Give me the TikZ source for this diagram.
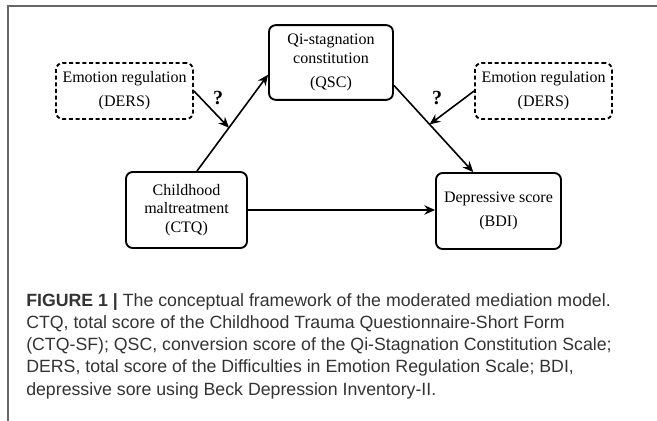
\documentclass[tikz,border=0pt]{standalone}
\usepackage{fontspec}
\setmainfont{Liberation Serif}
\newfontfamily\capfont{Liberation Sans}
\usetikzlibrary{arrows.meta}
\begin{document}
\begin{tikzpicture}[x=0.75pt,y=-0.75pt,
  box/.style={draw,rounded corners=5pt,line width=1.4pt,align=center,inner sep=0pt,
    font=\fontsize{12}{14}\selectfont},
  modbox/.style={box,densely dashed},
  link/.style={line width=1.2pt,-{Stealth[length=8pt,width=7pt]}},
  qmark/.style={font=\bfseries\fontsize{15}{17}\selectfont},
  rim/.style={line width=1.1pt,color=black!60},
  capline/.style={anchor=base west,inner sep=0pt,text=black!80,
    font=\capfont\fontsize{13.3}{16}\selectfont}]
\useasboundingbox (0,0) rectangle (657,421);
\draw[rim] (8,421) -- (8,6) -- (657,6);
%
\node[box,minimum width=93pt,minimum height=56pt] (qsc) at (331,62.5)
  {Qi-stagnation\\constitution\\[4pt](QSC)};
\node[modbox,minimum width=102.75pt,minimum height=42pt] (dersl) at (124.5,91)
  {Emotion regulation\\[4pt](DERS)};
\node[modbox,minimum width=102.75pt,minimum height=42pt] (dersr) at (543.5,91)
  {Emotion regulation\\[4pt](DERS)};
\node[box,minimum width=90.75pt,minimum height=57pt] (ctq) at (186.5,210)
  {Childhood\\maltreatment\\(CTQ)};
\node[box,minimum width=93.75pt,minimum height=57pt] (bdi) at (498.5,211)
  {Depressive score\\[4pt](BDI)};
%
\draw[link] (ctq.75) -- coordinate[pos=.45] (m1) (qsc.191);
\draw[link] (qsc.340) -- coordinate[pos=.45] (m2) (bdi.123);
\draw[link] (ctq.east) -- (bdi.west |- ctq.east);
\draw[link] (dersl.east) -- (m1);
\draw[link] (dersr.west) -- (m2);
\node[qmark] (q1) at (218,98) {?};
\node[qmark] (q2) at (437,98) {?};
%
\node[capline] (cap1) at (26,306) {\textbf{FIGURE 1 |} The conceptual framework of the moderated mediation model.};
\node[capline] (cap2) at (26,328.3) {CTQ, total score of the Childhood Trauma Questionnaire-Short Form};
\node[capline] (cap3) at (26,350.6) {(CTQ-SF); QSC, conversion score of the Qi-Stagnation Constitution Scale;};
\node[capline] (cap4) at (26,372.9) {DERS, total score of the Difficulties in Emotion Regulation Scale; BDI,};
\node[capline] (cap5) at (26,395.2) {depressive sore using Beck Depression Inventory-II.};
\end{tikzpicture}
\end{document}
